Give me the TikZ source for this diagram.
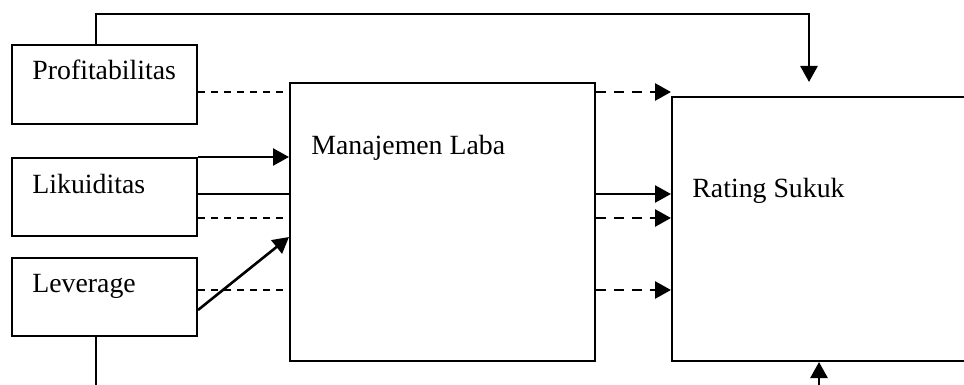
\documentclass[tikz,border=0pt]{standalone}
\usepackage{fontspec}
\setmainfont{Liberation Serif}
\usetikzlibrary{arrows.meta,calc}
\begin{document}
\begin{tikzpicture}[x=0.5pt,y=-0.5pt,
  box/.style={draw, line width=1pt, rectangle, anchor=north west, inner sep=0pt},
  lbl/.style={font=\fontsize{13.9pt}{16pt}\selectfont, inner sep=0pt},
  sol/.style={line width=1pt},
  arr/.style={line width=1.3pt, -{Triangle[length=8pt,width=8.5pt]}},
  dsh/.style={line width=0.8pt, dash pattern=on 3.5pt off 3pt},
  darr/.style={line width=1.4pt, dash pattern=on 5pt off 4pt, -{Triangle[length=8pt,width=8.5pt]}}]
\useasboundingbox (0,0) rectangle (964,385);
% boxes
\node[box, minimum width=92.5pt, minimum height=39.5pt] (prof) at (11,44) {};
\node[box, minimum width=92.5pt, minimum height=39pt] (lik) at (11,157) {};
\node[box, minimum width=92.5pt, minimum height=39pt] (lev) at (11,257) {};
\node[box, minimum width=152.5pt, minimum height=139pt] (ml) at (289,82) {};
\node[box, minimum width=160pt, minimum height=132pt] (rs) at (671,96) {};
% labels
\node[lbl, anchor=base west] (tprof) at ([shift={(21,36)}]prof.north west) {Profitabilitas};
\node[lbl, anchor=base west] (tlik) at ([shift={(21,36)}]lik.north west) {Likuiditas};
\node[lbl, anchor=base west] (tlev) at ([shift={(21,35)}]lev.north west) {Leverage};
\node[lbl, anchor=base west] (tml) at ([shift={(22,73)}]ml.north west) {Manajemen Laba};
\node[lbl, anchor=base west] (trs) at ([shift={(21,102)}]rs.north west) {Rating Sukuk};
% top connector
\coordinate (topc) at (809,14);
\coordinate (tipc) at ($(topc |- rs.north)+(0,-14)$);
\draw[arr] ([xshift=42.5pt]prof.north west) |- (topc) -- (tipc);
% left connectors
\draw[dsh] ([yshift=-24pt]prof.north east) coordinate (p1) -- (p1 -| ml.west);
\draw[arr] (lik.north east) -- (lik.north east -| ml.west);
\draw[sol] ([yshift=-18.5pt]lik.north east) coordinate (l2) -- (l2 -| ml.west);
\draw[dsh] ([yshift=-30.5pt]lik.north east) coordinate (l3) -- (l3 -| ml.west);
\draw[dsh] ([yshift=-16.5pt]lev.north east) coordinate (v1) -- (v1 -| ml.west);
\draw[arr] ([yshift=-26.5pt]lev.north east) -- ([yshift=-77.5pt]ml.north west);
% right connectors
\draw[darr] ([yshift=-5pt]ml.north east) coordinate (r1) -- (r1 -| rs.west);
\draw[arr] ([yshift=-56pt]ml.north east) coordinate (r2) -- (r2 -| rs.west);
\draw[darr] ([yshift=-68pt]ml.north east) coordinate (r3) -- (r3 -| rs.west);
\draw[darr] ([yshift=-104pt]ml.north east) coordinate (r4) -- (r4 -| rs.west);
% bottom connectors
\coordinate (botl) at (96,400);
\coordinate (botr) at (819,400);
\draw[sol] ([xshift=42.5pt]lev.south west) -- (botl);
\draw[arr] (botr) -- (botr |- rs.south);
\end{tikzpicture}
\end{document}
